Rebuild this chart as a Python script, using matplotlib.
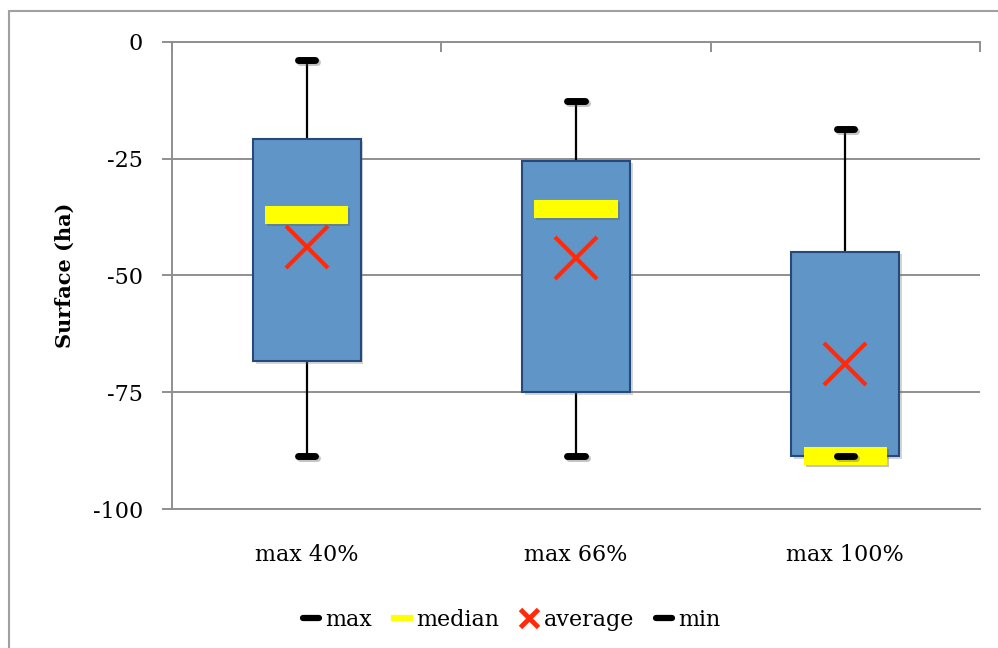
import matplotlib
matplotlib.use("Agg")
import matplotlib.pyplot as plt
import matplotlib.patheffects as pe
from matplotlib.lines import Line2D
from matplotlib.markers import MarkerStyle
from matplotlib.patches import Rectangle

categories = ["max 40%", "max 66%", "max 100%"]
q3_values = [-20.7, -25.4, -44.9]
q1_values = [-68.3, -74.9, -88.6]
max_values = [-3.8, -12.6, -18.7]
min_values = [-88.6, -88.6, -88.6]
median_values = [-37.0, -35.8, -88.7]
average_values = [-44.0, -46.3, -69.0]
y_ticks = [0, -25, -50, -75, -100]

GRID = "#8f8f8f"
BOX_FILL = "#6095c8"
BOX_EDGE = "#24497a"

plt.rcParams["font.family"] = ["DejaVu Serif"]
plt.rcParams["axes.unicode_minus"] = False

fig = plt.figure(figsize=(9.98, 6.48), dpi=100)
ax = fig.add_axes([0.1723, 0.2145, 0.8097, 0.7207])

x = list(range(1, len(categories) + 1))
shadow = [pe.SimplePatchShadow(offset=(2, -2), shadow_rgbFace="#777777", alpha=0.3), pe.Normal()]
line_shadow = [pe.SimpleLineShadow(offset=(1.5, -1.5), shadow_color="#555555", alpha=0.35), pe.Normal()]

# whiskers
ax.vlines(x, q3_values, max_values, color="black", lw=1.6, zorder=2)
ax.vlines(x, q1_values, min_values, color="black", lw=1.6, zorder=2)

# boxes
heights = [t - b for t, b in zip(q3_values, q1_values)]
bars = ax.bar(x, heights, bottom=q1_values, width=0.4, color=BOX_FILL,
              edgecolor=BOX_EDGE, linewidth=1.5, zorder=3)
for b in bars:
    b.set_path_effects(shadow)

cap_marker = MarkerStyle("_", capstyle="round")
ax.plot(x, max_values, ls="none", marker=cap_marker, ms=12.5, mew=5,
        color="black", zorder=6, path_effects=line_shadow)
ax.plot(x, median_values, ls="none", marker="_", ms=60, mew=13,
        color="#ffff00", zorder=4, path_effects=line_shadow)
ax.plot(x, average_values, ls="none", marker="x", ms=30, mew=3,
        color="#ff2a0a", zorder=5)
ax.plot(x, min_values, ls="none", marker=cap_marker, ms=12.5, mew=5,
        color="black", zorder=7, path_effects=line_shadow)

ax.set_xlim(0.5, len(categories) + 0.5)
ax.set_ylim(-100, 0)
ax.set_yticks(y_ticks)
ax.set_yticklabels([str(v) for v in y_ticks], fontsize=16)
ax.set_xticks(x)
ax.set_xticklabels(categories, fontsize=16)
ax.set_xticks([i + 0.5 for i in range(len(categories) + 1)], minor=True)
ax.tick_params(axis="x", which="major", bottom=False, top=False, pad=22)
ax.tick_params(axis="x", which="minor", bottom=False, top=True,
               direction="in", length=7, width=1.4, color=GRID)
ax.tick_params(axis="y", which="major", left=True, direction="out",
               length=7, width=1.4, color=GRID, pad=14)

ax.set_axisbelow(True)
ax.yaxis.grid(True, color=GRID, lw=1.4)
for side in ["top", "left", "bottom"]:
    ax.spines[side].set_color(GRID)
    ax.spines[side].set_linewidth(1.4)
ax.spines["right"].set_visible(False)

ax.set_ylabel("Surface (ha)", fontsize=15, fontweight="bold", labelpad=13)

handles = [
    Line2D([], [], color="black", lw=4.5, solid_capstyle="round"),
    Line2D([], [], color="#ffff00", lw=4.5),
    Line2D([], [], ls="none", marker="x", ms=13, mew=3.5, color="#ff2a0a"),
    Line2D([], [], color="black", lw=4.5, solid_capstyle="round"),
]
fig.legend(handles, ["max", "median", "average", "min"], loc="center",
           bbox_to_anchor=(0.513, 0.043), ncol=4, frameon=False, fontsize=16,
           handlelength=0.7, handletextpad=0.3, columnspacing=1.0)

# outer chart frame
fig.patches.append(Rectangle((0.009, -0.1), 1.2, 0.983 + 0.1, transform=fig.transFigure,
                             fill=False, edgecolor="#a0a0a0", lw=1.5))

fig.savefig("out.png", dpi=100)
